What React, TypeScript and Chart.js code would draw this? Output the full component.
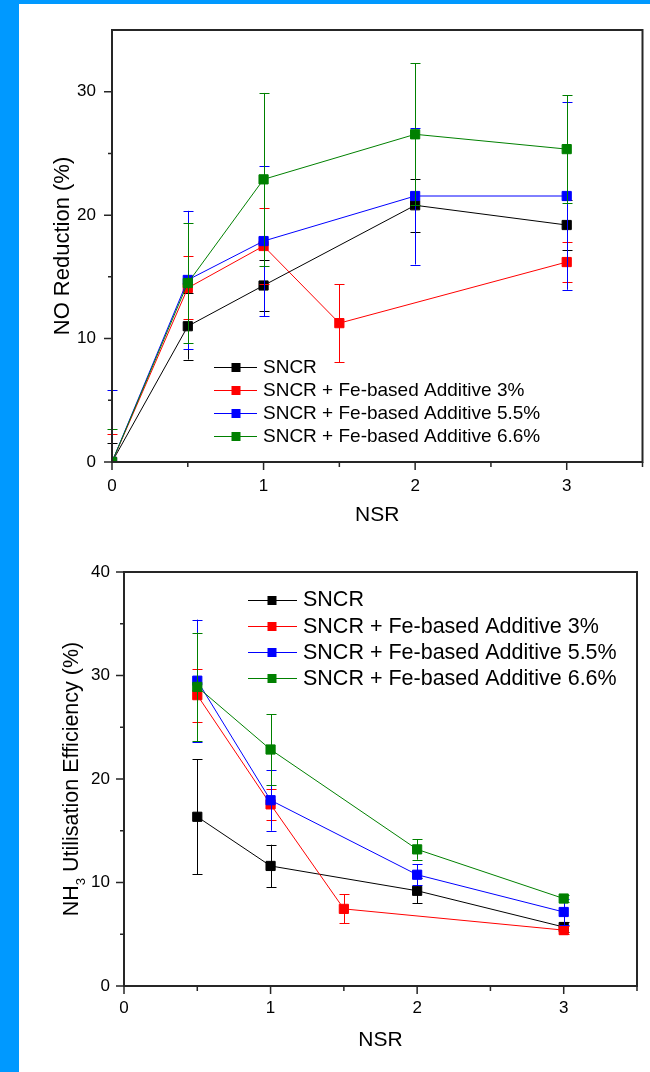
import React, { useEffect, useRef } from 'react';
import { Chart, registerables } from 'chart.js';

Chart.register(...registerables);

const FONT = "'Liberation Sans', Arial, Helvetica, sans-serif";

const seriesLabels = [
  'SNCR',
  'SNCR + Fe-based Additive 3%',
  'SNCR + Fe-based Additive 5.5%',
  'SNCR + Fe-based Additive 6.6%',
];
const seriesColors = ['#000000', '#ff0000', '#0000ff', '#008000'];

// ---- NO reduction (%) — top chart ----
const noNsrSNCR = [0, 0.5, 1, 2, 3];
const noValSNCR = [0, 11.0, 14.3, 20.8, 19.2];
const noErrSNCR = [1.5, 2.7, 2.05, 2.15, 2.0];
const noNsrFe3 = [0, 0.5, 1, 1.5, 3];
const noValFe3 = [0, 14.1, 17.5, 11.25, 16.2];
const noErrFe3 = [2.3, 2.55, 3.1, 3.15, 1.65];
const noNsrFe55 = [0, 0.5, 1, 2, 3];
const noValFe55 = [0, 14.75, 17.9, 21.55, 21.55];
const noErrFe55 = [5.85, 5.6, 6.1, 5.55, 7.6];
const noNsrFe66 = [0, 0.5, 1, 2, 3];
const noValFe66 = [0, 14.5, 22.9, 26.55, 25.35];
const noErrFe66 = [2.7, 4.85, 7.0, 5.75, 4.35];

// ---- NH3 utilisation efficiency (%) — bottom chart ----
const nhNsrSNCR = [0.5, 1, 2, 3];
const nhValSNCR = [16.35, 11.6, 9.2, 5.7];
const nhErrSNCR = [5.55, 2.05, 1.2, 0.5];
const nhNsrFe3 = [0.5, 1, 1.5, 3];
const nhValFe3 = [28.1, 17.55, 7.45, 5.4];
const nhErrFe3 = [2.55, 1.5, 1.4, 0.4];
const nhNsrFe55 = [0.5, 1, 2, 3];
const nhValFe55 = [29.5, 17.95, 10.75, 7.15];
const nhErrFe55 = [5.9, 2.95, 1.0, 1.25];
const nhNsrFe66 = [0.5, 1, 2, 3];
const nhValFe66 = [28.9, 22.85, 13.2, 8.45];
const nhErrFe66 = [5.25, 3.4, 1.0, 0.3];

// ---- ticks ----
const xMajorTicks = [0, 1, 2, 3];
const xMinorTicks = [0.5, 1.5, 2.5, 3.5];
const noYMajorTicks = [0, 10, 20, 30];
const noYMinorTicks = [5, 15, 25];
const nhYMajorTicks = [0, 10, 20, 30, 40];
const nhYMinorTicks = [5, 15, 25, 35];

function makeDatasets(xs: number[][], ys: number[][], es: number[][]) {
  return seriesLabels.map((label, k) => ({
    label,
    data: xs[k].map((x, i) => ({ x, y: ys[k][i] })),
    errors: es[k],
    borderColor: seriesColors[k],
    backgroundColor: seriesColors[k],
    borderWidth: 1,
    pointStyle: 'rect',
    pointRadius: 6.5,
    pointBorderWidth: 1,
    pointBackgroundColor: seriesColors[k],
    pointBorderColor: seriesColors[k],
    tension: 0,
    order: 3 - k,
  }));
}

const errorBarPlugin = {
  id: 'errorBars',
  beforeDatasetDraw(chart: any, args: any) {
    const ds = chart.data.datasets[args.index];
    const errs: number[] | undefined = ds.errors;
    if (!errs) return;
    const yScale = chart.scales.y;
    const ctx = chart.ctx;
    const bottom = chart.chartArea.bottom;
    ctx.save();
    ctx.strokeStyle = ds.borderColor;
    ctx.lineWidth = 1;
    args.meta.data.forEach((pt: any, i: number) => {
      const e = errs[i];
      if (!e) return;
      const v = ds.data[i].y;
      const x = Math.round(pt.x) + 0.5;
      const yt = yScale.getPixelForValue(v + e);
      let yb = yScale.getPixelForValue(v - e);
      const clipped = yb > bottom;
      if (clipped) yb = bottom;
      ctx.beginPath();
      ctx.moveTo(x, yt);
      ctx.lineTo(x, yb);
      ctx.moveTo(x - 5, Math.round(yt) + 0.5);
      ctx.lineTo(x + 5, Math.round(yt) + 0.5);
      if (!clipped) {
        ctx.moveTo(x - 5, Math.round(yb) + 0.5);
        ctx.lineTo(x + 5, Math.round(yb) + 0.5);
      }
      ctx.stroke();
    });
    ctx.restore();
  },
};

const framePlugin = {
  id: 'frame',
  afterDatasetsDraw(chart: any, _args: any, opts: any) {
    const { ctx, chartArea } = chart;
    const { left, right, top, bottom } = chartArea;
    const xs = chart.scales.x;
    const ys = chart.scales.y;
    ctx.save();
    ctx.strokeStyle = '#262626';
    ctx.lineWidth = 2;
    ctx.beginPath();
    ctx.moveTo(left, top);
    ctx.lineTo(right, top);
    ctx.lineTo(right, bottom);
    ctx.lineTo(left, bottom);
    ctx.closePath();
    ctx.stroke();
    ctx.lineWidth = 1.5;
    ctx.beginPath();
    (opts.xMajor as number[]).forEach((v) => {
      const p = xs.getPixelForValue(v);
      ctx.moveTo(p, bottom);
      ctx.lineTo(p, bottom + 8);
    });
    (opts.xMinor as number[]).forEach((v) => {
      const p = xs.getPixelForValue(v);
      ctx.moveTo(p, bottom);
      ctx.lineTo(p, bottom + 5);
    });
    (opts.yMajor as number[]).forEach((v) => {
      const p = ys.getPixelForValue(v);
      ctx.moveTo(left, p);
      ctx.lineTo(left - 8, p);
    });
    (opts.yMinor as number[]).forEach((v) => {
      const p = ys.getPixelForValue(v);
      ctx.moveTo(left, p);
      ctx.lineTo(left - 4, p);
    });
    ctx.stroke();
    ctx.restore();
  },
};

const legendPlugin = {
  id: 'originLegend',
  afterDraw(chart: any, _args: any, opts: any) {
    const ctx = chart.ctx;
    ctx.save();
    ctx.font = `${opts.size}px ${FONT}`;
    ctx.textBaseline = 'middle';
    ctx.textAlign = 'left';
    seriesLabels.forEach((label, k) => {
      const y = opts.y0 + k * opts.dy;
      const c = seriesColors[k];
      ctx.strokeStyle = c;
      ctx.lineWidth = 1;
      ctx.beginPath();
      ctx.moveTo(opts.x0, Math.round(y) + 0.5);
      ctx.lineTo(opts.x1, Math.round(y) + 0.5);
      ctx.stroke();
      ctx.fillStyle = c;
      ctx.fillRect(opts.xm - 4.5, Math.round(y) - 4, 9, 9);
      ctx.fillStyle = '#000';
      ctx.fillText(label, opts.tx, y + 1);
    });
    ctx.restore();
  },
};

const subTitlePlugin = {
  id: 'subTitle',
  afterDraw(chart: any, _args: any, opts: any) {
    if (!opts || !opts.main) return;
    const ctx = chart.ctx;
    const { top, bottom } = chart.chartArea;
    const cy = (top + bottom) / 2;
    const big = `${opts.size}px ${FONT}`;
    const small = `${Math.round(opts.size * 0.62)}px ${FONT}`;
    ctx.save();
    ctx.font = big;
    const w1 = ctx.measureText(opts.main).width;
    const w3 = ctx.measureText(opts.rest).width;
    ctx.font = small;
    const w2 = ctx.measureText(opts.sub).width;
    const total = w1 + w2 + w3;
    ctx.translate(opts.cx, cy);
    ctx.rotate(-Math.PI / 2);
    ctx.fillStyle = '#000';
    ctx.textBaseline = 'middle';
    ctx.textAlign = 'left';
    let x = -total / 2;
    ctx.font = big;
    ctx.fillText(opts.main, x, 0);
    x += w1;
    ctx.font = small;
    ctx.fillText(opts.sub, x, opts.size * 0.42);
    x += w2;
    ctx.font = big;
    ctx.fillText(opts.rest, x, 0);
    ctx.restore();
  },
};

function makeConfig(p: any) {
  return {
    type: 'line',
    data: { datasets: p.datasets },
    plugins: [errorBarPlugin, framePlugin, legendPlugin, subTitlePlugin],
    options: {
      responsive: false,
      animation: false,
      events: [],
      layout: { padding: p.padding },
      plugins: {
        legend: { display: false },
        tooltip: { enabled: false },
        frame: { xMajor: xMajorTicks, xMinor: xMinorTicks, yMajor: p.yMajor, yMinor: p.yMinor },
        originLegend: p.legend,
        subTitle: p.subTitle,
      },
      scales: {
        x: {
          type: 'linear',
          min: 0,
          max: 3.5,
          afterBuildTicks: (s: any) => {
            s.ticks = xMajorTicks.map((v) => ({ value: v }));
          },
          afterFit: (s: any) => {
            s.height = p.xHeight;
          },
          grid: { display: false, drawTicks: false },
          border: { display: false },
          ticks: { font: { family: FONT, size: 17 }, color: '#000', padding: p.xTickPad, maxRotation: 0 },
          title: {
            display: true,
            text: 'NSR',
            color: '#000',
            font: { family: FONT, size: 21 },
            padding: { top: 0, bottom: p.xTitlePad },
          },
        },
        y: {
          type: 'linear',
          min: 0,
          max: p.yMax,
          afterBuildTicks: (s: any) => {
            s.ticks = p.yMajor.map((v: number) => ({ value: v }));
          },
          afterFit: (s: any) => {
            s.width = p.yWidth;
          },
          grid: { display: false, drawTicks: false },
          border: { display: false },
          ticks: { font: { family: FONT, size: 17 }, color: '#000', padding: p.yTickPad },
          title: {
            display: !!p.yTitle,
            text: p.yTitle || '',
            color: '#000',
            font: { family: FONT, size: 22 },
            padding: { top: p.yTitlePad, bottom: 0 },
          },
        },
      },
    },
  };
}

export default function App() {
  const topRef = useRef<HTMLCanvasElement>(null);
  const botRef = useRef<HTMLCanvasElement>(null);

  useEffect(() => {
    Chart.defaults.font.family = FONT;
    Chart.defaults.color = '#000';

    const topChart = new Chart(
      topRef.current as HTMLCanvasElement,
      makeConfig({
        datasets: makeDatasets(
          [noNsrSNCR, noNsrFe3, noNsrFe55, noNsrFe66],
          [noValSNCR, noValFe3, noValFe55, noValFe66],
          [noErrSNCR, noErrFe3, noErrFe55, noErrFe66]
        ),
        yMax: 35,
        yMajor: noYMajorTicks,
        yMinor: noYMinorTicks,
        yTitle: 'NO Reduction (%)',
        yTitlePad: 50,
        yWidth: 112,
        xHeight: 78,
        xTitlePad: 12,
        xTickPad: 14,
        yTickPad: 16,
        padding: { left: 0, right: 2, top: 30, bottom: 0 },
        legend: { x0: 214, x1: 257, xm: 236, tx: 263, y0: 366.5, dy: 23.2, size: 19 },
        subTitle: null,
      }) as any
    );

    const botChart = new Chart(
      botRef.current as HTMLCanvasElement,
      makeConfig({
        datasets: makeDatasets(
          [nhNsrSNCR, nhNsrFe3, nhNsrFe55, nhNsrFe66],
          [nhValSNCR, nhValFe3, nhValFe55, nhValFe66],
          [nhErrSNCR, nhErrFe3, nhErrFe55, nhErrFe66]
        ),
        yMax: 40,
        yMajor: nhYMajorTicks,
        yMinor: nhYMinorTicks,
        yTitle: null,
        yTitlePad: 0,
        yWidth: 124,
        xHeight: 86,
        xTitlePad: 19,
        xTickPad: 12,
        yTickPad: 14,
        padding: { left: 0, right: 13, top: 32, bottom: 0 },
        legend: { x0: 248, x1: 297, xm: 272, tx: 303, y0: 59.5, dy: 26.2, size: 21.5 },
        subTitle: { main: 'NH', sub: '3', rest: ' Utilisation Efficiency (%)', size: 21.5, cx: 72 },
      }) as any
    );

    return () => {
      topChart.destroy();
      botChart.destroy();
    };
  }, []);

  return (
    <div
      style={{
        position: 'absolute',
        left: 0,
        top: 0,
        width: 650,
        height: 1072,
        background: '#ffffff',
        overflow: 'hidden',
      }}
    >
      <canvas ref={topRef} width={650} height={540} style={{ position: 'absolute', left: 0, top: 0 }} />
      <canvas ref={botRef} width={650} height={532} style={{ position: 'absolute', left: 0, top: 540 }} />
      <div style={{ position: 'absolute', left: 0, top: 0, width: 19, height: 1072, background: '#0099ff' }} />
      <div style={{ position: 'absolute', left: 0, top: 0, width: 650, height: 4, background: '#0099ff' }} />
    </div>
  );
}
